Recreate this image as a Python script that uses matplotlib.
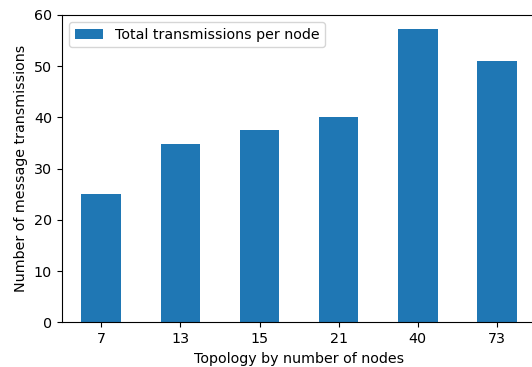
import matplotlib
matplotlib.use("Agg")
import matplotlib.pyplot as plt
import numpy as np

categories = ["7", "13", "15", "21", "40", "73"]
values = [25.0, 34.8, 37.5, 40.0, 57.3, 51.0]
series_label = "Total transmissions per node"

plt.rcParams["font.size"] = 10.3

fig = plt.figure(figsize=(5.32, 3.67), dpi=100)
ax = fig.add_axes([0.116, 0.1218, 0.8925, 0.838])
x = np.arange(len(categories))
ax.bar(x, values, width=0.5, color="#1f77b4", label=series_label)
ax.set_xlim(-0.5, len(categories) - 0.5)
ax.set_ylim(0, 60)
ax.set_xticks(x)
ax.set_xticklabels(categories)
ax.set_yticks(np.arange(0, 61, 10))
ax.set_xlabel("Topology by number of nodes")
ax.set_ylabel("Number of message transmissions")
ax.legend(loc="upper left")
fig.savefig("out.png", dpi=100)
